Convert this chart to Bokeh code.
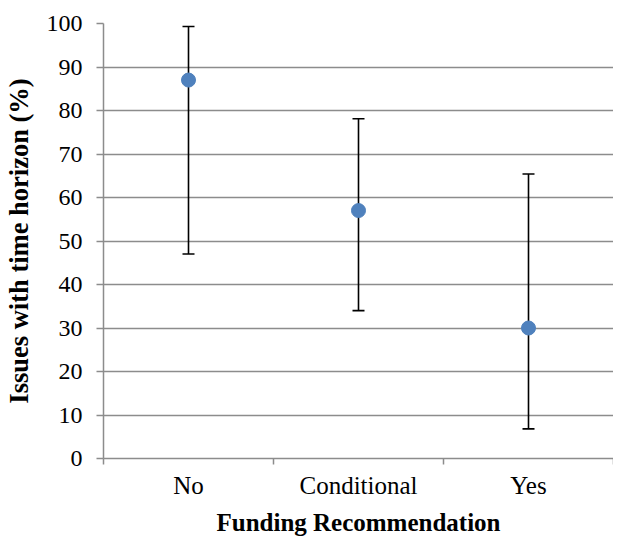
from bokeh.plotting import figure
from bokeh.models import ColumnDataSource, Whisker, TeeHead, FixedTicker, Range1d
from bokeh.embed import file_html
from bokeh.resources import INLINE

categories = ["No", "Conditional", "Yes"]
values = [87, 57, 30]
upper = [99.3, 78.1, 65.4]
lower = [47.0, 34.0, 6.8]
y_ticks = [0, 10, 20, 30, 40, 50, 60, 70, 80, 90, 100]

xpos = [i + 0.5 for i in range(len(categories))]
src = ColumnDataSource(dict(x=xpos, y=values, upper=upper, lower=lower))

FONT = "Liberation Serif"
GRID = "#8c8c8c"

p = figure(width=613, height=538, output_backend="svg", toolbar_location=None,
           x_range=Range1d(0, len(categories)), y_range=Range1d(0, 100),
           min_border_left=103, min_border_right=0, min_border_top=23, min_border_bottom=79)
p.outline_line_color = None
p.background_fill_color = "white"
p.border_fill_color = "white"

w = Whisker(source=src, base="x", upper="upper", lower="lower",
            line_color="black", line_width=1.6,
            upper_head=TeeHead(size=12, line_color="black", line_width=1.6),
            lower_head=TeeHead(size=12, line_color="black", line_width=1.6))
p.add_layout(w)
p.scatter("x", "y", source=src, size=14, fill_color="#4f81bd", line_color="#4f81bd")

p.xgrid.visible = False
p.ygrid.ticker = FixedTicker(ticks=y_ticks)
p.ygrid.grid_line_color = GRID
p.ygrid.grid_line_width = 1.5

p.yaxis.ticker = FixedTicker(ticks=y_ticks)
p.yaxis.axis_line_color = GRID
p.yaxis.axis_line_width = 1.5
p.yaxis.major_tick_line_color = GRID
p.yaxis.major_tick_line_width = 1.5
p.yaxis.major_tick_out = 7
p.yaxis.major_tick_in = 0
p.yaxis.minor_tick_line_color = None
p.yaxis.major_label_standoff = 14
p.yaxis.major_label_text_font = FONT
p.yaxis.major_label_text_font_size = "24px"
p.yaxis.major_label_text_color = "black"
p.yaxis.axis_label = "Issues with time horizon (%)"
p.yaxis.axis_label_text_font = FONT
p.yaxis.axis_label_text_font_style = "bold"
p.yaxis.axis_label_text_font_size = "26.5px"
p.yaxis.axis_label_text_color = "black"
p.yaxis.axis_label_standoff = 10

p.xaxis.ticker = FixedTicker(ticks=xpos, minor_ticks=list(range(len(categories) + 1)))
p.xaxis.major_label_overrides = {x: c for x, c in zip(xpos, categories)}
p.xaxis.axis_line_color = GRID
p.xaxis.axis_line_width = 1.5
p.xaxis.major_tick_line_color = None
p.xaxis.major_tick_out = 0
p.xaxis.major_tick_in = 0
p.xaxis.minor_tick_line_color = GRID
p.xaxis.minor_tick_line_width = 1.5
p.xaxis.minor_tick_out = 6
p.xaxis.minor_tick_in = 0
p.xaxis.major_label_standoff = 7
p.xaxis.major_label_text_font = FONT
p.xaxis.major_label_text_font_size = "25px"
p.xaxis.major_label_text_color = "black"
p.xaxis.axis_label = "Funding Recommendation"
p.xaxis.axis_label_text_font = FONT
p.xaxis.axis_label_text_font_style = "bold"
p.xaxis.axis_label_text_font_size = "25px"
p.xaxis.axis_label_text_color = "black"
p.xaxis.axis_label_standoff = 7

open("out.html", "w").write(file_html(p, INLINE))
